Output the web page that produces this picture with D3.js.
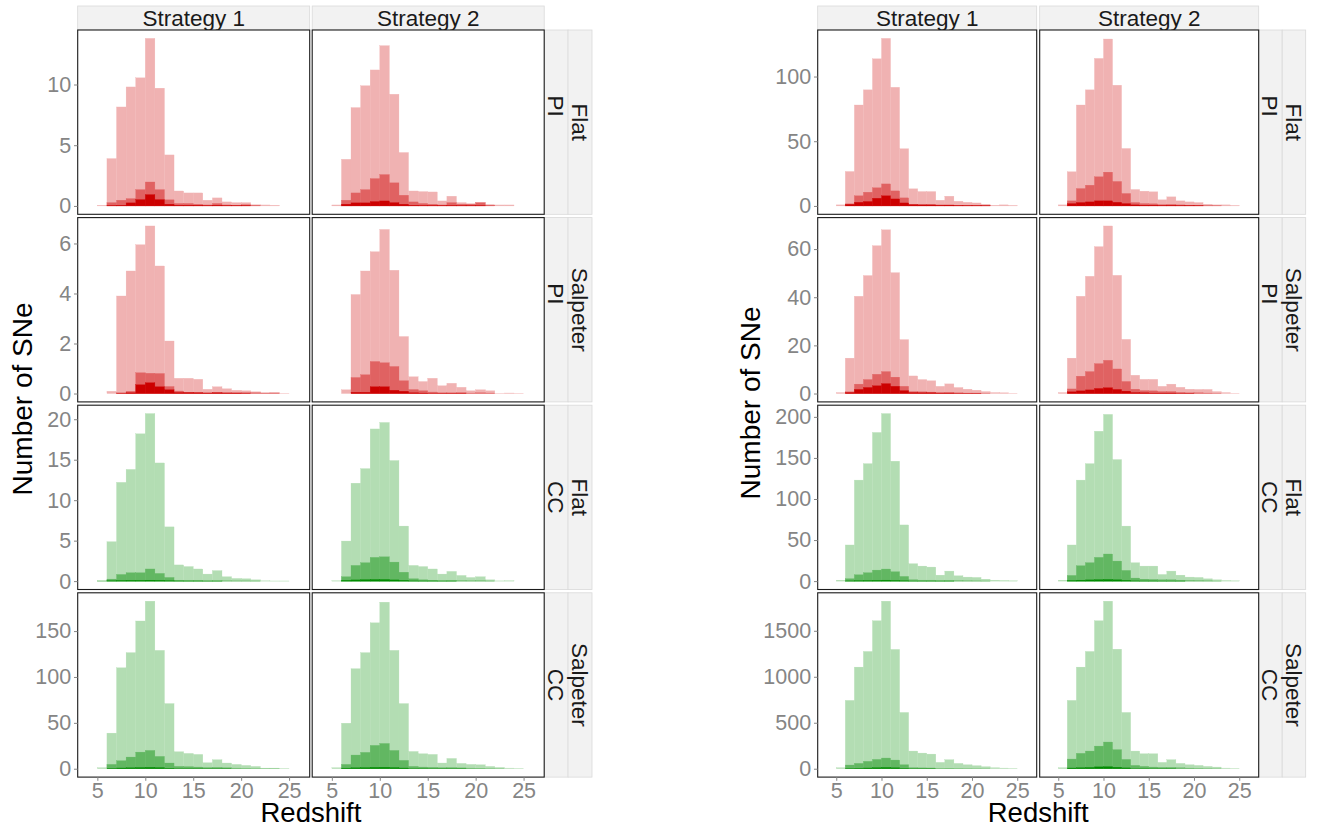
<!DOCTYPE html>
<html><head><meta charset="utf-8">
<script src="https://cdn.jsdelivr.net/npm/d3@7"></script>
<style>body{margin:0;background:#fff} svg{display:block}</style>
</head><body>
<svg id="c" width="1318" height="827"></svg>
<script>
// ---------- DATA (bins of width 1, left edges 5..24) ----------
const binStarts = [5,6,7,8,9,10,11,12,13,14,15,16,17,18,19,20,21,22,23,24];
const strategies = ["Strategy 1", "Strategy 2"];
const rowInner = ["PI", "PI", "CC", "CC"];
const rowOuter = ["Flat", "Salpeter", "Flat", "Salpeter"];
const xTicks = [5, 10, 15, 20, 25];
const yTicksLeft  = [[0,5,10],[0,2,4,6],[0,5,10,15,20],[0,50,100,150]];
const yTicksRight = [[0,50,100],[0,20,40,60],[0,50,100,150,200],[0,500,1000,1500]];

// Left figure
const A_r1_s1_light = [0.05,3.9,8.15,9.8,10.55,13.8,9.7,4.2,1.23,1.07,1.07,0.47,0.66,0.33,0.27,0.27,0.1,0.08,0.05,0];
const A_r1_s1_mid   = [0,0.27,0.47,0.6,1.34,1.97,1.34,0.5,0.2,0.2,0.14,0.08,0.2,0.08,0.05,0.1,0.05,0,0,0];
const A_r1_s1_dark  = [0,0.03,0.05,0.25,0.52,0.93,0.52,0.14,0.05,0.05,0.05,0.02,0.05,0.02,0.02,0.02,0,0,0,0];
const A_r1_s2_light = [0.08,3.84,8.1,9.9,11.2,13.2,9.2,4.4,1.23,1.18,1.15,0.41,0.8,0.27,0.19,0.27,0.08,0.08,0.08,0];
const A_r1_s2_mid   = [0,0.47,1.07,1.34,2.25,2.58,1.9,0.88,0.33,0.2,0.14,0.08,0.27,0.14,0.14,0.27,0.08,0,0,0];
const A_r1_s2_dark  = [0,0.14,0.25,0.25,0.36,0.41,0.27,0.14,0.05,0.03,0.03,0.02,0.03,0.02,0.02,0.02,0,0,0,0];

const A_r2_s1_light = [0,0.09,3.9,4.9,5.95,6.7,5.1,2.1,0.61,0.61,0.57,0.17,0.27,0.19,0.13,0.11,0.07,0.03,0.05,0.01];
const A_r2_s1_mid   = [0,0,0.03,0.09,0.83,0.81,0.8,0.28,0.1,0.05,0.05,0.03,0.05,0.04,0.03,0.04,0.03,0.02,0.02,0];
const A_r2_s1_dark  = [0,0,0.01,0.03,0.35,0.43,0.27,0.15,0.04,0.04,0.03,0.02,0.03,0.02,0.02,0.01,0,0,0,0];
const A_r2_s2_light = [0,0.15,3.96,4.9,5.67,6.56,4.93,2.28,0.67,0.48,0.61,0.31,0.41,0.25,0.11,0.15,0.11,0.01,0.02,0.01];
const A_r2_s2_mid   = [0,0,0.64,0.75,1.28,1.23,1.08,0.51,0.16,0.11,0.06,0.03,0.03,0.04,0.02,0.03,0.02,0,0,0];
const A_r2_s2_dark  = [0,0,0.05,0.05,0.27,0.27,0.13,0.09,0.03,0.02,0.01,0.01,0.01,0.01,0,0,0,0,0,0];

const A_r3_s1_light = [0.05,4.87,12.2,13.8,18.2,20.7,14.6,6.7,2.0,1.8,1.5,0.87,1.3,0.54,0.33,0.29,0.16,0.04,0.02,0.02];
const A_r3_s1_mid   = [0.02,0.25,0.82,1.03,1.03,1.5,0.95,0.45,0.12,0.08,0.08,0.05,0.06,0.04,0.03,0.03,0.02,0,0,0];
const A_r3_s1_dark  = [0,0.05,0.08,0.1,0.1,0.12,0.1,0.06,0.02,0.02,0.02,0.01,0.01,0,0,0,0,0,0,0];
const A_r3_s2_light = [0.05,4.95,12.1,13.9,18.8,19.6,14.9,6.8,1.94,1.8,1.5,0.87,1.2,0.7,0.45,0.54,0.16,0.03,0.05,0];
const A_r3_s2_mid   = [0,0.54,1.94,2.27,2.93,3.0,2.35,1.1,0.29,0.16,0.12,0.08,0.1,0.06,0.04,0.05,0.02,0,0,0];
const A_r3_s2_dark  = [0,0.1,0.15,0.18,0.2,0.2,0.15,0.1,0.03,0.02,0.02,0.01,0.01,0,0,0,0,0,0,0];

const A_r4_s1_light = [1.1,38.8,110,126.5,161,182.6,129,71,18.5,16.7,15.6,6.5,9.8,6.2,4.7,3.6,2.5,0.7,0.7,0.4];
const A_r4_s1_mid   = [0,4.7,8.7,12.7,18.1,19.9,13.4,6.2,2.5,2.2,1.8,1.2,1.4,1.0,0.7,0.5,0.3,0.1,0.1,0];
const A_r4_s1_dark  = [0,0.5,0.8,1.0,1.3,1.5,1.2,0.6,0.2,0.2,0.2,0.1,0.1,0.1,0,0,0,0,0,0];
const A_r4_s2_light = [1.1,49.6,109,126.5,159,181.5,129,71,18.8,16.3,15.6,6.2,11.2,5.8,4.7,4.3,2.5,1.4,0.7,0.4];
const A_r4_s2_mid   = [0,4.7,14.9,17.8,25.4,27.5,19.9,9.1,2.5,1.8,1.5,1.1,1.2,0.9,0.7,0.6,0.3,0.1,0,0];
const A_r4_s2_dark  = [0,0.7,1.0,1.2,1.5,1.6,1.3,0.8,0.2,0.2,0.1,0.1,0.1,0.1,0,0,0,0,0,0];

// Right figure
const B_r1_s1_light = [0.8,26.6,78,89.7,113.7,129.5,91.7,44.2,13.2,11.1,11.1,4.4,7.5,3.6,2.8,2.3,1.3,0.5,0.8,0.3];
const B_r1_s1_mid   = [0,1.6,7.8,10.6,14,17,11.6,6.2,1.3,1.0,1.0,0.8,0.8,0.5,0.4,0.3,0.2,0,0,0];
const B_r1_s1_dark  = [0,1.2,2.8,3.4,5.9,7.8,5.4,2.3,1.0,0.8,0.8,0.5,0.6,0.3,0.2,0.2,0.1,0,0,0];
const B_r1_s2_light = [0.8,26.4,78,89.7,114,129,93.3,44.4,12.7,11.4,10.9,4.7,7,3.9,3.1,2.6,1.3,0.8,0.8,0.3];
const B_r1_s2_mid   = [0,3.9,13.4,16,22.5,26.1,18.9,9.6,2.6,1.8,1.6,1.0,1.2,0.8,0.6,0.5,0.3,0.1,0,0];
const B_r1_s2_dark  = [0,1.8,2.6,3.1,3.9,3.9,2.8,1.8,0.8,0.5,0.5,0.3,0.4,0.2,0.2,0.1,0,0,0,0];

const B_r2_s1_light = [0.4,14.7,40.4,49,61.4,68,50.2,22.4,7.3,5.8,5.3,3,4,2.5,1.8,1.4,0.8,0.4,0.3,0.1];
const B_r2_s1_mid   = [0,0.7,3.9,5.8,8,9.1,6.8,3,0.8,0.7,0.6,0.4,0.5,0.3,0.2,0.2,0.1,0,0,0];
const B_r2_s1_dark  = [0,0.4,1.7,2.5,3.2,4.1,3,1.2,0.4,0.3,0.3,0.2,0.2,0.1,0.1,0.1,0,0,0,0];
const B_r2_s2_light = [0.4,14.7,40.4,48.7,61,69.6,49.1,22.5,7.6,5.9,5.9,3,3.9,2.6,1.8,1.7,1.7,0.8,0.4,0.1];
const B_r2_s2_mid   = [0,1.9,7.2,9.1,12.4,13.8,10.2,5,1.8,1.2,1.1,0.8,0.8,0.5,0.3,0.3,0.2,0.1,0,0];
const B_r2_s2_dark  = [0,0.7,1.1,1.5,2.1,2.4,1.7,1.0,0.4,0.3,0.2,0.2,0.2,0.1,0.1,0,0,0,0,0];

const B_r3_s1_light = [1.2,44,123,143,181,204,146,68.4,21.2,18.3,17.1,7.3,12.2,6.5,4.9,4.5,2.4,1.2,0.8,0.4];
const B_r3_s1_mid   = [0,2.9,7.7,10.2,13.4,14.7,11.4,5.7,1.6,1.2,1.2,0.8,0.9,0.6,0.4,0.3,0.2,0,0,0];
const B_r3_s1_dark  = [0,0.3,0.6,0.8,1.0,1.2,0.9,0.5,0.1,0.1,0.1,0.1,0.1,0,0,0,0,0,0,0];
const B_r3_s2_light = [1.2,44,123,143,182.5,203,148,67,22.4,18.3,18.3,8.1,12.2,7.3,4.9,4.5,2.8,1.6,0.8,0.4];
const B_r3_s2_mid   = [0,6.9,18.7,22.4,28.9,33,24.4,13,3.7,2.4,2.0,1.6,1.6,1.2,0.8,0.6,0.4,0.1,0,0];
const B_r3_s2_dark  = [0,0.8,1.2,1.5,1.8,2.0,1.6,1.0,0.3,0.2,0.2,0.1,0.1,0.1,0,0,0,0,0,0];

const B_r4_s1_light = [11,743,1105,1275,1609,1822,1297,612,192,170,159,69,98,58,43,33,22,11,7,4];
const B_r4_s1_mid   = [0,40,58,80,101,116,94,43,11,9,8,5,6,4,3,2,1,0,0,0];
const B_r4_s1_dark  = [0,4,6,8,11,14,10,5,1,1,1,0,0,0,0,0,0,0,0,0];
const B_r4_s2_light = [11,743,1105,1275,1609,1822,1300,612,192,163,163,69,98,58,43,36,25,18,7,4];
const B_r4_s2_mid   = [0,105,167,192,246,290,207,101,36,25,18,14,14,10,7,5,3,1,0,0];
const B_r4_s2_dark  = [0,8,11,14,20,22,16,9,2,2,1,1,1,0,0,0,0,0,0,0];

// ---------- assemble tables ----------
const tableA = [
  [[A_r1_s1_light,A_r1_s1_mid,A_r1_s1_dark],[A_r1_s2_light,A_r1_s2_mid,A_r1_s2_dark]],
  [[A_r2_s1_light,A_r2_s1_mid,A_r2_s1_dark],[A_r2_s2_light,A_r2_s2_mid,A_r2_s2_dark]],
  [[A_r3_s1_light,A_r3_s1_mid,A_r3_s1_dark],[A_r3_s2_light,A_r3_s2_mid,A_r3_s2_dark]],
  [[A_r4_s1_light,A_r4_s1_mid,A_r4_s1_dark],[A_r4_s2_light,A_r4_s2_mid,A_r4_s2_dark]]
];
const tableB = [
  [[B_r1_s1_light,B_r1_s1_mid,B_r1_s1_dark],[B_r1_s2_light,B_r1_s2_mid,B_r1_s2_dark]],
  [[B_r2_s1_light,B_r2_s1_mid,B_r2_s1_dark],[B_r2_s2_light,B_r2_s2_mid,B_r2_s2_dark]],
  [[B_r3_s1_light,B_r3_s1_mid,B_r3_s1_dark],[B_r3_s2_light,B_r3_s2_mid,B_r3_s2_dark]],
  [[B_r4_s1_light,B_r4_s1_mid,B_r4_s1_dark],[B_r4_s2_light,B_r4_s2_mid,B_r4_s2_dark]]
];

const redCols   = ["#F0B2B2", "#E06262", "#CC0000"];
const greenCols = ["#B3DDB3", "#62B762", "#008B00"];
const rowColors = [redCols, redCols, greenCols, greenCols];

const FONT = "'Liberation Sans', Arial, Helvetica, sans-serif";
const svg = d3.select("#c");

const rowTop = [30, 217.6, 405.2, 592.8];
const rowH = 184.3;
const innerShift = {"PI": -16, "CC": 0};

const grids = [
  {table: tableA, yTicks: yTicksLeft, colX: [77.7, 312.2], colW: 232, stripX: [544.2, 568], stripW: 24, titleX: 32.3, titleY: 399},
  {table: tableB, yTicks: yTicksRight, colX: [817.7, 1039.7], colW: 219, stripX: [1258.7, 1282.2], stripW: 23.5, titleX: 760, titleY: 403}
];

function styleAxis(ax) {
  ax.select(".domain").remove();
  ax.selectAll("line").attr("stroke", "#858585");
  ax.selectAll("text").attr("font-family", FONT).attr("font-size", 21.5).attr("fill", "#858585");
}

grids.forEach((g, gi) => {
  const gg = svg.append("g");
  strategies.forEach((s, c) => {
    gg.append("rect").attr("x", g.colX[c]).attr("y", 6).attr("width", g.colW).attr("height", 24)
      .attr("fill", "#F2F2F2").attr("stroke", "#D9D9D9").attr("stroke-width", 0.8);
    gg.append("text").attr("x", g.colX[c] + g.colW / 2).attr("y", 26.3)
      .attr("text-anchor", "middle").attr("font-family", FONT).attr("font-size", 22.5)
      .attr("fill", "#1A1A1A").text(s);
  });
  g.table.forEach((row, r) => {
    const top = rowTop[r];
    const M = d3.max(row.flat(2));
    const y = d3.scaleLinear().domain([-0.05 * M, 1.05 * M]).range([top + rowH, top]);
    [rowInner[r], rowOuter[r]].forEach((lab, k) => {
      const sx = g.stripX[k];
      gg.append("rect").attr("x", sx).attr("y", top).attr("width", g.stripW).attr("height", rowH)
        .attr("fill", "#F2F2F2").attr("stroke", "#D9D9D9").attr("stroke-width", 0.8);
      const cx = sx + g.stripW / 2;
      const cy = top + rowH / 2 + (k === 0 ? innerShift[lab] : 0);
      gg.append("text").attr("transform", `translate(${cx},${cy}) rotate(90)`)
        .attr("text-anchor", "middle").attr("dy", "0.36em")
        .attr("font-family", FONT).attr("font-size", 22.5).attr("fill", "#1A1A1A").text(lab);
    });
    row.forEach((layers, c) => {
      const x0 = g.colX[c];
      const x = d3.scaleLinear().domain([2.95, 27.15]).range([x0, x0 + g.colW]);
      const pid = `clip-${gi}-${r}-${c}`;
      gg.append("clipPath").attr("id", pid).append("rect")
        .attr("x", x0).attr("y", top).attr("width", g.colW).attr("height", rowH);
      const pg = gg.append("g").attr("clip-path", `url(#${pid})`);
      pg.append("rect").attr("x", x0).attr("y", top).attr("width", g.colW).attr("height", rowH).attr("fill", "#fff");
      layers.forEach((vals, li) => {
        const d = binStarts.map((b, i) => ({b, v: vals[i]})).filter(o => o.v > 0);
        pg.selectAll(null).data(d).enter().append("rect")
          .attr("x", o => x(o.b))
          .attr("width", o => x(o.b + 1) - x(o.b))
          .attr("y", o => y(o.v))
          .attr("height", o => y(0) - y(o.v))
          .attr("fill", rowColors[r][li])
          .attr("stroke", rowColors[r][li]).attr("stroke-width", 0.3);
      });
      gg.append("rect").attr("x", x0).attr("y", top).attr("width", g.colW).attr("height", rowH)
        .attr("fill", "none").attr("stroke", "#1A1A1A").attr("stroke-width", 1.1);
      if (c === 0) {
        const ax = gg.append("g").attr("transform", `translate(${x0},0)`)
          .call(d3.axisLeft(y).tickValues(g.yTicks[r]).tickSize(3.7).tickPadding(2.9).tickFormat(d3.format("d")));
        styleAxis(ax);
      }
      if (r === 3) {
        const ax = gg.append("g").attr("transform", `translate(0,${top + rowH})`)
          .call(d3.axisBottom(x).tickValues(xTicks).tickSize(3.7).tickPadding(2.3).tickFormat(d3.format("d")));
        styleAxis(ax);
      }
    });
  });
  const midX = (g.colX[0] + g.colX[1] + g.colW) / 2;
  gg.append("text").attr("x", midX).attr("y", 822.3).attr("text-anchor", "middle")
    .attr("font-family", FONT).attr("font-size", 27.5).attr("fill", "#000").text("Redshift");
  gg.append("text").attr("transform", `translate(${g.titleX},${g.titleY}) rotate(-90)`)
    .attr("text-anchor", "middle").attr("font-family", FONT).attr("font-size", 28).attr("fill", "#000")
    .text("Number of SNe");
});
</script>
</body></html>
